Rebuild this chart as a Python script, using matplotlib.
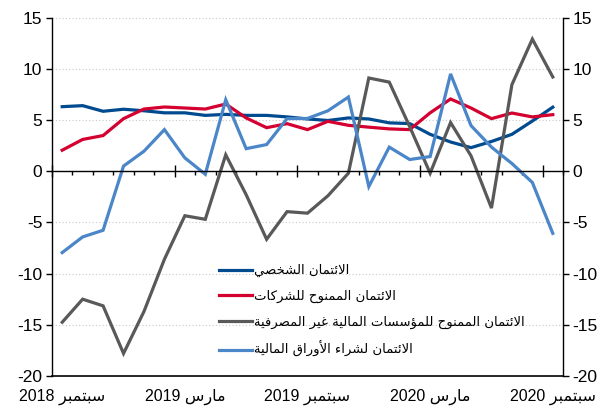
import numpy as np
import matplotlib
matplotlib.use("Agg")
import matplotlib.pyplot as plt
from matplotlib.ticker import FixedLocator

plt.rcParams["font.family"] = ["Liberation Sans", "DejaVu Sans"]
plt.rcParams["axes.unicode_minus"] = False

# monthly data, Sep 2018 .. Sep 2020
personal = [6.3, 6.4, 5.85, 6.05, 5.9, 5.7, 5.7, 5.45, 5.55, 5.45, 5.45, 5.3, 5.1,
            4.95, 5.2, 5.1, 4.72, 4.65, 3.6, 2.85, 2.3, 2.9, 3.6, 4.9, 6.25]
corporate = [2.05, 3.1, 3.48, 5.13, 6.07, 6.27, 6.17, 6.07, 6.56, 5.2, 4.25, 4.64, 4.06,
             4.87, 4.48, 4.3, 4.13, 4.06, 5.7, 7.05, 6.17, 5.13, 5.68, 5.3, 5.52]
nonbank = [-14.75, -12.5, -13.15, -17.8, -13.7, -8.6, -4.35, -4.7, 1.6, -2.3, -6.65, -3.95, -4.1,
           -2.4, -0.2, 9.1, 8.7, 4.35, -0.2, 4.75, 1.5, -3.6, 8.45, 12.9, 9.2]
securities = [-7.95, -6.42, -5.77, 0.5, 1.95, 4.06, 1.3, -0.3, 6.98, 2.2, 2.6, 5.13, 5.15,
              5.9, 7.24, -1.5, 2.35, 1.14, 1.43, 9.5, 4.45, 2.35, 0.75, -1.1, -6.07]

labels = ["الائتمان الشخصي",
          "الائتمان الممنوح للشركات",
          "الائتمان الممنوح للمؤسسات المالية غير المصرفية",
          "الائتمان لشراء الأوراق المالية"]
tick_pos = [0, 6, 12, 18, 24]
tick_text = ["سبتمبر 2018", "مارس 2019", "سبتمبر 2019", "مارس 2020", "سبتمبر 2020"]
colors = ["#004a8f", "#d4002f", "#595959", "#4a86c8"]

# --- minimal arabic shaping (matplotlib has no text shaping) ---
DUAL = {"ئ": 0xFE89, "ب": 0xFE8F, "ت": 0xFE95, "ح": 0xFEA1, "خ": 0xFEA5, "س": 0xFEB1,
        "ش": 0xFEB5, "ص": 0xFEB9, "غ": 0xFECD, "ف": 0xFED1, "ق": 0xFED5, "ك": 0xFED9,
        "ل": 0xFEDD, "م": 0xFEE1, "ن": 0xFEE5, "ي": 0xFEF1}
RIGHT = {"أ": 0xFE83, "ؤ": 0xFE85, "ا": 0xFE8D, "ة": 0xFE93, "ر": 0xFEAD, "و": 0xFEED,
         "لا": 0xFEFB, "لأ": 0xFEF7}
NONE = {"ء": 0xFE80}


def shape_word(w):
    chars = []
    i = 0
    while i < len(w):
        if w[i] == "ل" and i + 1 < len(w) and w[i + 1] in "اأ":
            chars.append(w[i:i + 2])
            i += 2
        else:
            chars.append(w[i])
            i += 1
    out = []
    for k, c in enumerate(chars):
        prev = chars[k - 1] if k > 0 else None
        nxt = chars[k + 1] if k + 1 < len(chars) else None
        jp = prev in DUAL and c not in NONE
        jn = c in DUAL and nxt is not None and (nxt in DUAL or nxt in RIGHT)
        if c in DUAL:
            off = 3 if (jp and jn) else 1 if jp else 2 if jn else 0
            out.append(chr(DUAL[c] + off))
        elif c in RIGHT:
            out.append(chr(RIGHT[c] + (1 if jp else 0)))
        elif c in NONE:
            out.append(chr(NONE[c]))
        else:
            out.append(c)
    return "".join(reversed(out))


def rtl(s):
    words = s.split(" ")
    vis = [w if w.isdigit() else shape_word(w) for w in words]
    return " ".join(reversed(vis))


x = np.arange(len(personal))

fig = plt.figure(figsize=(6.08, 4.09), dpi=100)
ax = fig.add_axes([0.0855, 0.0807, 0.8405, 0.8763])

series = [personal, corporate, nonbank, securities]
for ys, c, lab in zip(series, colors, labels):
    ax.plot(x, ys, color=c, lw=2.3, label=rtl(lab), solid_joinstyle="miter")

ax.set_xlim(-0.5, 24.5)
ax.set_ylim(-20, 15)
ax.set_yticks(np.arange(-20, 16, 5))
ax.yaxis.grid(True, linestyle=(0, (1, 2)), color="#c8c8c8", lw=0.8)
ax.set_axisbelow(True)

ax.spines["top"].set_visible(False)
ax.spines["bottom"].set_position(("data", 0))
for s in ["left", "right", "bottom"]:
    ax.spines[s].set_linewidth(1.0)

ax.xaxis.set_major_locator(FixedLocator([-0.5, 5.5, 11.5, 17.5, 23.5]))
ax.xaxis.set_minor_locator(FixedLocator(np.arange(-0.5, 25, 1)))
ax.tick_params(axis="x", which="major", direction="inout", length=8, width=1, labelbottom=False)
ax.tick_params(axis="x", which="minor", direction="out", length=3, width=1)
ax.tick_params(axis="y", which="major", direction="out", length=4, width=1,
               left=True, right=True, labelleft=True, labelright=True, labelsize=12.5, pad=3)

sec = ax.secondary_xaxis("bottom")
sec.set_xticks(tick_pos)
sec.set_xticklabels([rtl(t) for t in tick_text])
sec.tick_params(length=0, labelsize=11.5, pad=9)
sec.spines["bottom"].set_linewidth(1.2)

ax.legend(loc="upper left", bbox_to_anchor=(0.303, 0.345), frameon=False,
          handlelength=2.5, handletextpad=0.15, labelspacing=0.95,
          prop={"family": ["DejaVu Sans"], "size": 9.5})

fig.savefig("out.png", dpi=100)
